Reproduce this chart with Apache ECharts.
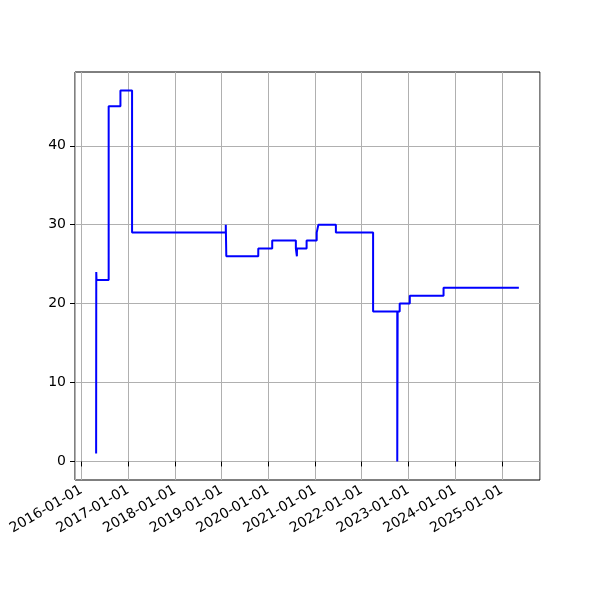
<!DOCTYPE html>
<html>
<head>
<meta charset="utf-8">
<script src="https://cdn.jsdelivr.net/npm/echarts@6/dist/echarts.min.js"></script>
<style>html,body{margin:0;padding:0;background:#fff}#c{width:600px;height:600px}</style>
</head>
<body>
<div id="c"></div>
<script>
const dates = ['2016-04-25','2016-04-26','2016-04-28','2016-08-01','2016-11-01','2017-01-31',
  '2019-02-03','2019-02-07','2019-10-15','2020-02-01','2020-08-04','2020-08-12','2020-08-13',
  '2020-10-27','2021-01-14','2021-01-27','2021-06-13','2022-03-31','2022-10-06','2022-10-09',
  '2022-10-25','2023-01-12','2023-10-03','2025-05-14'];
const values = [1,24,23,45,47,29,30,26,27,28,27,26,27,28,29,30,29,19,0,19,20,21,22,22];
const xTickLabels = ['2016-01-01','2017-01-01','2018-01-01','2019-01-01','2020-01-01',
  '2021-01-01','2022-01-01','2023-01-01','2024-01-01','2025-01-01'];
const yTicks = [0,10,20,30,40];

const ts = d => new Date(d + 'T00:00:00Z').getTime();
const xs = dates.map(ts);
const x0 = Math.min(...xs), x1 = Math.max(...xs);
const xPad = (x1 - x0) * 0.05;
const y0 = Math.min(...values), y1 = Math.max(...values);
const yPad = (y1 - y0) * 0.05;
const YEAR = 365 * 24 * 3600 * 1000;

const chart = echarts.init(document.getElementById('c'), null, {useUTC: true});
const font = {fontFamily: 'DejaVu Sans', fontSize: 14, color: '#000'};
chart.setOption({
  animation: false,
  useUTC: true,
  backgroundColor: '#fff',
  grid: {left: 75, right: 60, top: 72, bottom: 120, show: true, borderColor: '#000', borderWidth: 1, backgroundColor: 'transparent'},
  xAxis: {
    type: 'time',
    min: x0 - xPad, max: x1 + xPad,
    minInterval: YEAR, maxInterval: YEAR * 1.01,
    axisLine: {show: false},
    axisTick: {show: true, inside: false, length: 5, lineStyle: {color: '#000', width: 1}},
    axisLabel: Object.assign({rotate: 30, margin: 9, showMinLabel: false, showMaxLabel: false, hideOverlap: false,
      formatter: v => {
        const d = new Date(v);
        const s = d.toISOString().slice(0, 10);
        return xTickLabels.indexOf(s) >= 0 ? s : '';
      }}, font),
    splitLine: {show: true, lineStyle: {color: '#b0b0b0', width: 1}}
  },
  yAxis: {
    type: 'value',
    min: y0 - yPad, max: y1 + yPad,
    axisLine: {show: false},
    axisTick: {show: true, length: 5, lineStyle: {color: '#000', width: 1}, customValues: yTicks},
    axisLabel: Object.assign({margin: 9, customValues: yTicks}, font),
    splitLine: {show: true, lineStyle: {color: '#b0b0b0', width: 1}}
  },
  series: [{
    type: 'line',
    step: 'end',
    showSymbol: false,
    symbol: 'none',
    data: xs.map((x, i) => [x, values[i]]),
    lineStyle: {color: '#0000ff', width: 2},
    itemStyle: {color: '#0000ff'}
  }]
});
</script>
</body>
</html>
